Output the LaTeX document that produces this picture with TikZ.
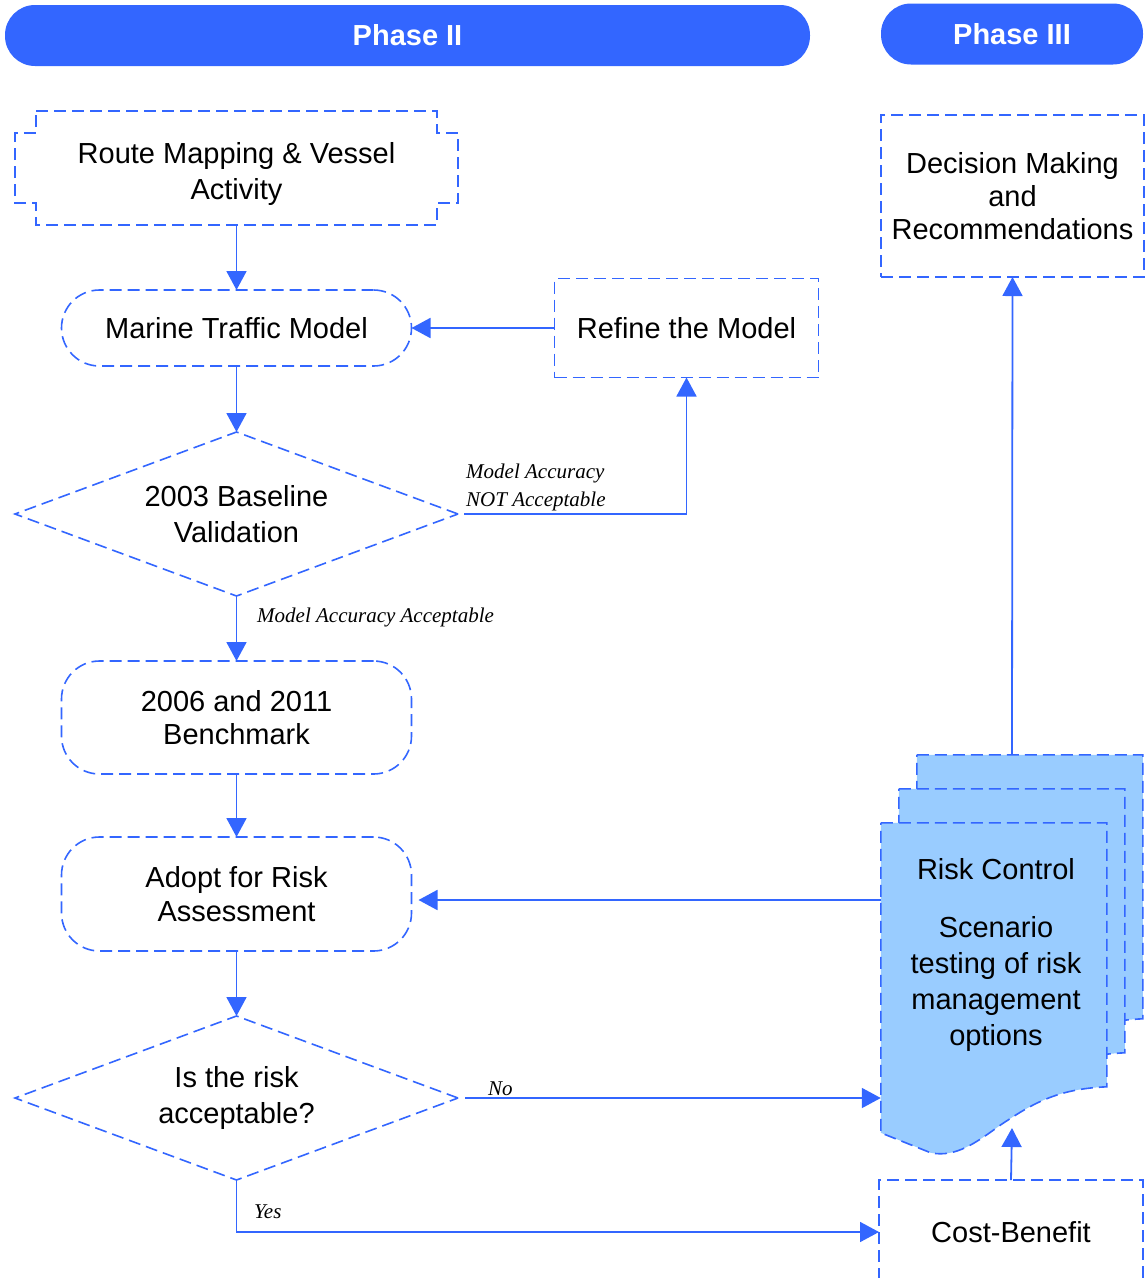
\documentclass[tikz,border=0pt]{standalone}
\usepackage{fontspec}
\setmainfont{Liberation Sans}
\newfontfamily\labelserif{Liberation Serif}
\usepackage{tikz}
\usetikzlibrary{shapes.geometric, arrows.meta, positioning}
\definecolor{FlowBlue}{HTML}{3366FF}
\definecolor{DocBlue}{HTML}{99CCFF}
\newcommand\flowfont{\fontsize{29}{36}\selectfont}
\tikzset{
  box line/.style={draw=FlowBlue, line width=1.6pt, dash pattern=on 12pt off 6pt},
  base node/.style={box line, align=center, inner sep=0pt, outer sep=0pt, font=\flowfont},
  phase bar/.style={
    rectangle, rounded corners=30pt, fill=FlowBlue, text=white,
    font=\flowfont\bfseries, minimum height=61pt, minimum width=#1
  },
  rect node/.style={base node, rectangle, minimum width=264pt},
  term node/.style={base node, rectangle, rounded corners=38pt, minimum width=350pt},
  test node/.style={base node, diamond, aspect=2.7, minimum width=443pt, minimum height=164pt},
  arrow/.style={-{Triangle[length=19pt, width=20pt]}, draw=FlowBlue, line width=1.8pt},
  edge label/.style={font=\labelserif\itshape\fontsize{21}{28}\selectfont, align=left, inner sep=0pt, anchor=west},
  doc line/.style={box line, fill=DocBlue},
  pics/risk doc/.style={code={
    \draw[doc line] (0,0) -- (226,0) -- (226,264)
      .. controls (175,266) and (150,282) .. (120,302)
      .. controls (95,320) and (75,335) .. (50,330) -- (0,310) -- cycle;
  }},
}

\begin{document}
\begin{tikzpicture}[x=1pt, y=-1pt]

  \useasboundingbox (0,0) rectangle (1146,1278);

  % -- phase headers --------------------------------------------------------
  \node[phase bar=805pt] (phase2) at (407.5,35.5) {Phase II};
  \node[phase bar=262pt] (phase3) at (1012,34) {Phase III};

  % -- phase II column ------------------------------------------------------
  \node[base node, draw=none, minimum width=401pt, minimum height=114pt] (route) at (236.5,168) {};
  \node[base node, draw=none] (routetext) at ([yshift=-6pt]route.center)
    {Route Mapping \& Vessel\\Activity};
  \draw[box line] (route.north west) -- (route.north east) -- ++(0,22) -- ++(21,0) -- ++(0,70)
    -- ++(-21,0) -- (route.south east) -- (route.south west) -- ++(0,-22) -- ++(-21,0)
    -- ++(0,-70) -- ++(21,0) -- cycle;

  \node[term node, minimum height=76pt, below=65pt of route] (marine) {Marine Traffic Model};
  \node[rect node, minimum height=99pt, right=143pt of marine] (refine) {Refine the Model};
  \node[test node, below=66pt of marine] (baseline) {2003 Baseline\\Validation};
  \node[term node, minimum height=113pt, below=65pt of baseline, font=\fontsize{29}{33}\selectfont] (bench)
    {2006 and 2011\\Benchmark};
  \node[term node, minimum height=114pt, below=63pt of bench, font=\fontsize{29}{34}\selectfont] (adopt)
    {Adopt for Risk\\Assessment};
  \node[test node, below=65pt of adopt] (accept) {Is the risk\\acceptable?};

  % -- phase III column -----------------------------------------------------
  \node[rect node, minimum width=263pt, minimum height=162pt, font=\fontsize{29}{33}\selectfont] (decision)
    at (1012.5,196) {Decision Making\\and\\Recommendations};

  \node[minimum width=226pt, minimum height=310pt, inner sep=0pt] (riskdoc) at (994,978) {};
  \path (riskdoc.north west) ++(36,-68) pic {risk doc};
  \path (riskdoc.north west) ++(18,-34) pic {risk doc};
  \path (riskdoc.north west) pic {risk doc};
  \node[font=\flowfont, align=center] (riskctl) at (996,955)
    {Risk Control\\[22pt]Scenario\\testing of risk\\management\\options};

  \node[rect node, minimum height=104pt] (costben) at (1011,1232) {Cost-Benefit};

  \coordinate (doctop) at ([xshift=18pt, yshift=68pt]riskdoc.north);
  \coordinate (docbottom) at (1012,1128);
  \coordinate (adoptin) at ([yshift=-6pt]adopt.east);

  % -- edge labels ----------------------------------------------------------
  \node[edge label] (lblrefine) at (466,487) {Model Accuracy\\NOT Acceptable};
  \node[edge label] (lblbench) at (257,617) {Model Accuracy Acceptable};
  \node[edge label] (lblno) at (488,1089) {No};
  \node[edge label] (lblyes) at (254,1212) {Yes};

  % -- arrows ---------------------------------------------------------------
  \draw[arrow] (route.south) -- (marine.north);
  \draw[arrow] (refine.west) -- (marine.east);
  \draw[arrow] (marine.south) -- (baseline.north);
  \draw[arrow, shorten <=6pt] (baseline.east) -| (refine.south);
  \draw[arrow] (baseline.south) -- (bench.north);
  \draw[arrow] (bench.south) -- (adopt.north);
  \draw[arrow, shorten >=7pt] (riskdoc.west |- adoptin) -- (adoptin);
  \draw[arrow] (adopt.south) -- (accept.north);
  \draw[arrow, shorten <=7pt] (accept.east) -- (riskdoc.west |- accept.east);
  \draw[arrow] (accept.south) |- (costben.west);
  \draw[arrow] (costben.north) -- (docbottom);
  \draw[arrow] (doctop) -- (decision.south);

\end{tikzpicture}
\end{document}
